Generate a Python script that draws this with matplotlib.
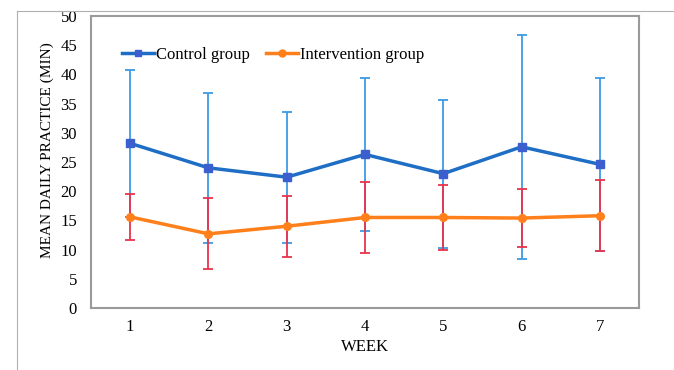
import numpy as np
import matplotlib.pyplot as plt
from matplotlib.lines import Line2D

weeks = [1, 2, 3, 4, 5, 6, 7]
control_mean = [28.2, 24.0, 22.4, 26.3, 23.0, 27.6, 24.6]
control_sd = [12.6, 12.9, 11.2, 13.1, 12.7, 19.2, 14.8]
interv_mean = [15.6, 12.7, 14.0, 15.5, 15.5, 15.4, 15.8]
interv_sd = [4.0, 6.1, 5.25, 6.1, 5.5, 5.0, 6.1]

plt.rcParams['font.family'] = ['Liberation Serif', 'DejaVu Serif']

fig = plt.figure(figsize=(6.74, 3.70), dpi=100)
ax = fig.add_axes([91 / 674, 1 - 308 / 370, (639 - 91) / 674, (308 - 16) / 370])

# error bars first, lines on top
ax.errorbar(weeks, control_mean, yerr=control_sd, fmt='none', ecolor='#3d9be3',
            elinewidth=1.3, capsize=3.5, capthick=1.3, zorder=1)
ax.errorbar(weeks, interv_mean, yerr=interv_sd, fmt='none', ecolor='#e8344c',
            elinewidth=1.3, capsize=3.5, capthick=1.3, zorder=2)
ax.plot(weeks, control_mean, color='#1f6ec5', lw=2.5, marker='s', ms=5.5,
        mfc='#3b5fcf', mec='#3b5fcf', zorder=3)
ax.plot(weeks, interv_mean, color='#ff7f1a', lw=2.5, marker='o', ms=5.5,
        mfc='#ff7f1a', mec='#ff7f1a', zorder=4)

ax.set_xlim(0.5, 7.5)
ax.set_ylim(0, 50)
ax.set_xticks(weeks)
ax.set_yticks(np.arange(0, 51, 5))
ax.tick_params(length=0, labelsize=12, pad=8)
ax.tick_params(axis='y', pad=10)
for s in ax.spines.values():
    s.set_color('#9a9a9a')
    s.set_linewidth(1.5)

ax.set_xlabel('WEEK', fontsize=12, labelpad=3)
ax.set_ylabel('MEAN DAILY PRACTICE (MIN)', fontsize=11)
ax.yaxis.set_label_coords(-0.067, 0.541)

handles = [
    Line2D([], [], color='#1f6ec5', lw=2.5, marker='s', ms=5, mfc='#3b5fcf', mec='#3b5fcf'),
    Line2D([], [], color='#ff7f1a', lw=2.5, marker='o', ms=5, mfc='#ff7f1a', mec='#ff7f1a'),
]
ax.legend(handles, ['Control group', 'Intervention group'], loc='upper left',
          bbox_to_anchor=(0.03, 0.945), ncol=2, frameon=False, fontsize=12,
          handlelength=1.9, handletextpad=0.1, columnspacing=1.0)

# thin page border
fig.add_artist(Line2D([17 / 674, 17 / 674], [0, 1 - 11 / 370], color='#b0b0b0', lw=0.8))
fig.add_artist(Line2D([17 / 674, 1], [1 - 11 / 370, 1 - 11 / 370], color='#b0b0b0', lw=0.8))

fig.savefig('out.png', dpi=100)
